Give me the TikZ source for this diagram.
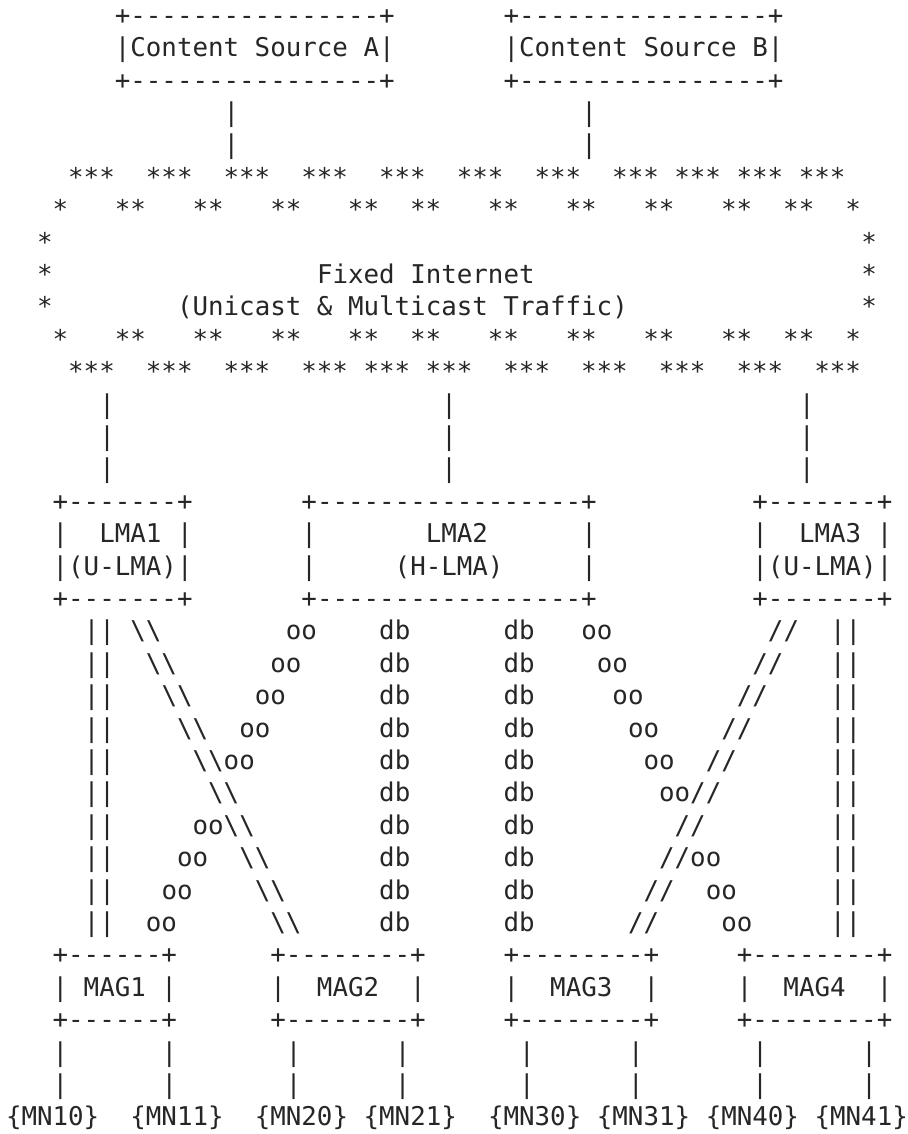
\documentclass[tikz,border=0pt]{standalone}
\usepackage{fontspec}
\setmonofont{DejaVu Sans Mono}
\usepackage{xcolor}
\usepackage{tikz}
\definecolor{bg}{HTML}{FFFFFF}
\definecolor{ink}{HTML}{262626}
\tikzset{
  ascii/.style={font=\ttfamily\fontsize{25.82}{30}\selectfont, text=ink,
    anchor=base west, inner sep=0pt, outer sep=0pt},
}
\newcommand{\bsl}{\textbackslash\textbackslash}

\begin{document}
\begin{tikzpicture}[x=15.55pt, y=-32.4pt]
  \useasboundingbox (-0.386,-0.747) rectangle (58.006,34.253);
  \fill[bg] (-0.386,-0.747) rectangle (58.006,34.253);

  % content sources
  \node[ascii] (srcAtop) at (7,0) {+----------------+};
  \node[ascii] (srcBtop) at (32,0) {+----------------+};
  \node[ascii] (srcA) at (7,1) {|Content~Source~A|};
  \node[ascii] (srcB) at (32,1) {|Content~Source~B|};
  \node[ascii] (srcAbot) at (7,2) {+----------------+};
  \node[ascii] (srcBbot) at (32,2) {+----------------+};
  \node[ascii] (upA1) at (14,3) {|};
  \node[ascii] (upA2) at (14,4) {|};
  \node[ascii] (upB1) at (37,3) {|};
  \node[ascii] (upB2) at (37,4) {|};

  % fixed internet cloud
  \node[ascii] (inetTop) at (4,5) {***~~***~~***~~***~~***~~***~~***~~***~***~***~***};
  \node[ascii] (inetUp) at (3,6) {*~~~**~~~**~~~**~~~**~~**~~~**~~~**~~~**~~~**~~**~~*};
  \node[ascii] (inetL1) at (2,7) {*};
  \node[ascii] (inetR1) at (55,7) {*};
  \node[ascii] (inetL2) at (2,8) {*};
  \node[ascii] (inetName) at (20,8) {Fixed~Internet};
  \node[ascii] (inetR2) at (55,8) {*};
  \node[ascii] (inetL3) at (2,9) {*};
  \node[ascii] (inetSub) at (11,9) {(Unicast~\&~Multicast~Traffic)};
  \node[ascii] (inetR3) at (55,9) {*};
  \node[ascii] (inetLow) at (3,10) {*~~~**~~~**~~~**~~~**~~**~~~**~~~**~~~**~~~**~~**~~*};
  \node[ascii] (inetBot) at (4,11) {***~~***~~***~~***~***~***~~***~~***~~***~~***~~***};

  % down to the LMAs
  \foreach \r in {12,13,14}{
    \node[ascii] (dnL\r) at (6,\r) {|};
    \node[ascii] (dnM\r) at (28,\r) {|};
    \node[ascii] (dnR\r) at (51,\r) {|};
  }

  % LMAs
  \node[ascii] (lma1top) at (3,15) {+-------+};
  \node[ascii] (lma1) at (3,16) {|~~LMA1~|};
  \node[ascii] (lma1sub) at (3,17) {|(U-LMA)|};
  \node[ascii] (lma1bot) at (3,18) {+-------+};
  \node[ascii] (lma2top) at (19,15) {+-----------------+};
  \node[ascii] (lma2) at (19,16) {|~~~~~~~LMA2~~~~~~|};
  \node[ascii] (lma2sub) at (19,17) {|~~~~~(H-LMA)~~~~~|};
  \node[ascii] (lma2bot) at (19,18) {+-----------------+};
  \node[ascii] (lma3top) at (48,15) {+-------+};
  \node[ascii] (lma3) at (48,16) {|~~LMA3~|};
  \node[ascii] (lma3sub) at (48,17) {|(U-LMA)|};
  \node[ascii] (lma3bot) at (48,18) {+-------+};

  % tunnels LMA -> MAG
  \foreach \k in {0,...,9}{
    \pgfmathtruncatemacro{\r}{19+\k}
    \node[ascii] (tunL\k) at (5,\r) {||};
    \node[ascii] (crossA\k) at (8+\k,\r) {\bsl};
    \ifnum\k=5 \else \node[ascii] (crossB\k) at (18-\k,\r) {oo}; \fi
    \node[ascii] (dbL\k) at (24,\r) {db};
    \node[ascii] (dbR\k) at (32,\r) {db};
    \ifnum\k=6 \else \node[ascii] (crossC\k) at (37+\k,\r) {oo}; \fi
    \node[ascii] (crossD\k) at (49-\k,\r) {//};
    \node[ascii] (tunR\k) at (53,\r) {||};
  }

  % MAGs
  \node[ascii] (mag1top) at (3,29) {+------+};
  \node[ascii] (mag1) at (3,30) {|~MAG1~|};
  \node[ascii] (mag1bot) at (3,31) {+------+};
  \node[ascii] (mag2top) at (17,29) {+--------+};
  \node[ascii] (mag2) at (17,30) {|~~MAG2~~|};
  \node[ascii] (mag2bot) at (17,31) {+--------+};
  \node[ascii] (mag3top) at (32,29) {+--------+};
  \node[ascii] (mag3) at (32,30) {|~~MAG3~~|};
  \node[ascii] (mag3bot) at (32,31) {+--------+};
  \node[ascii] (mag4top) at (47,29) {+--------+};
  \node[ascii] (mag4) at (47,30) {|~~MAG4~~|};
  \node[ascii] (mag4bot) at (47,31) {+--------+};

  % mobile nodes
  \foreach \c/\n in {3/10,10/11,18/20,25/21,33/30,40/31,48/40,55/41}{
    \node[ascii] (toMN\n a) at (\c,32) {|};
    \node[ascii] (toMN\n b) at (\c,33) {|};
  }
  \foreach \c/\n in {0/10,8/11,16/20,23/21,31/30,38/31,45/40,52/41}
    \node[ascii] (mn\n) at (\c,34) {\{MN\n\}};
\end{tikzpicture}
\end{document}
